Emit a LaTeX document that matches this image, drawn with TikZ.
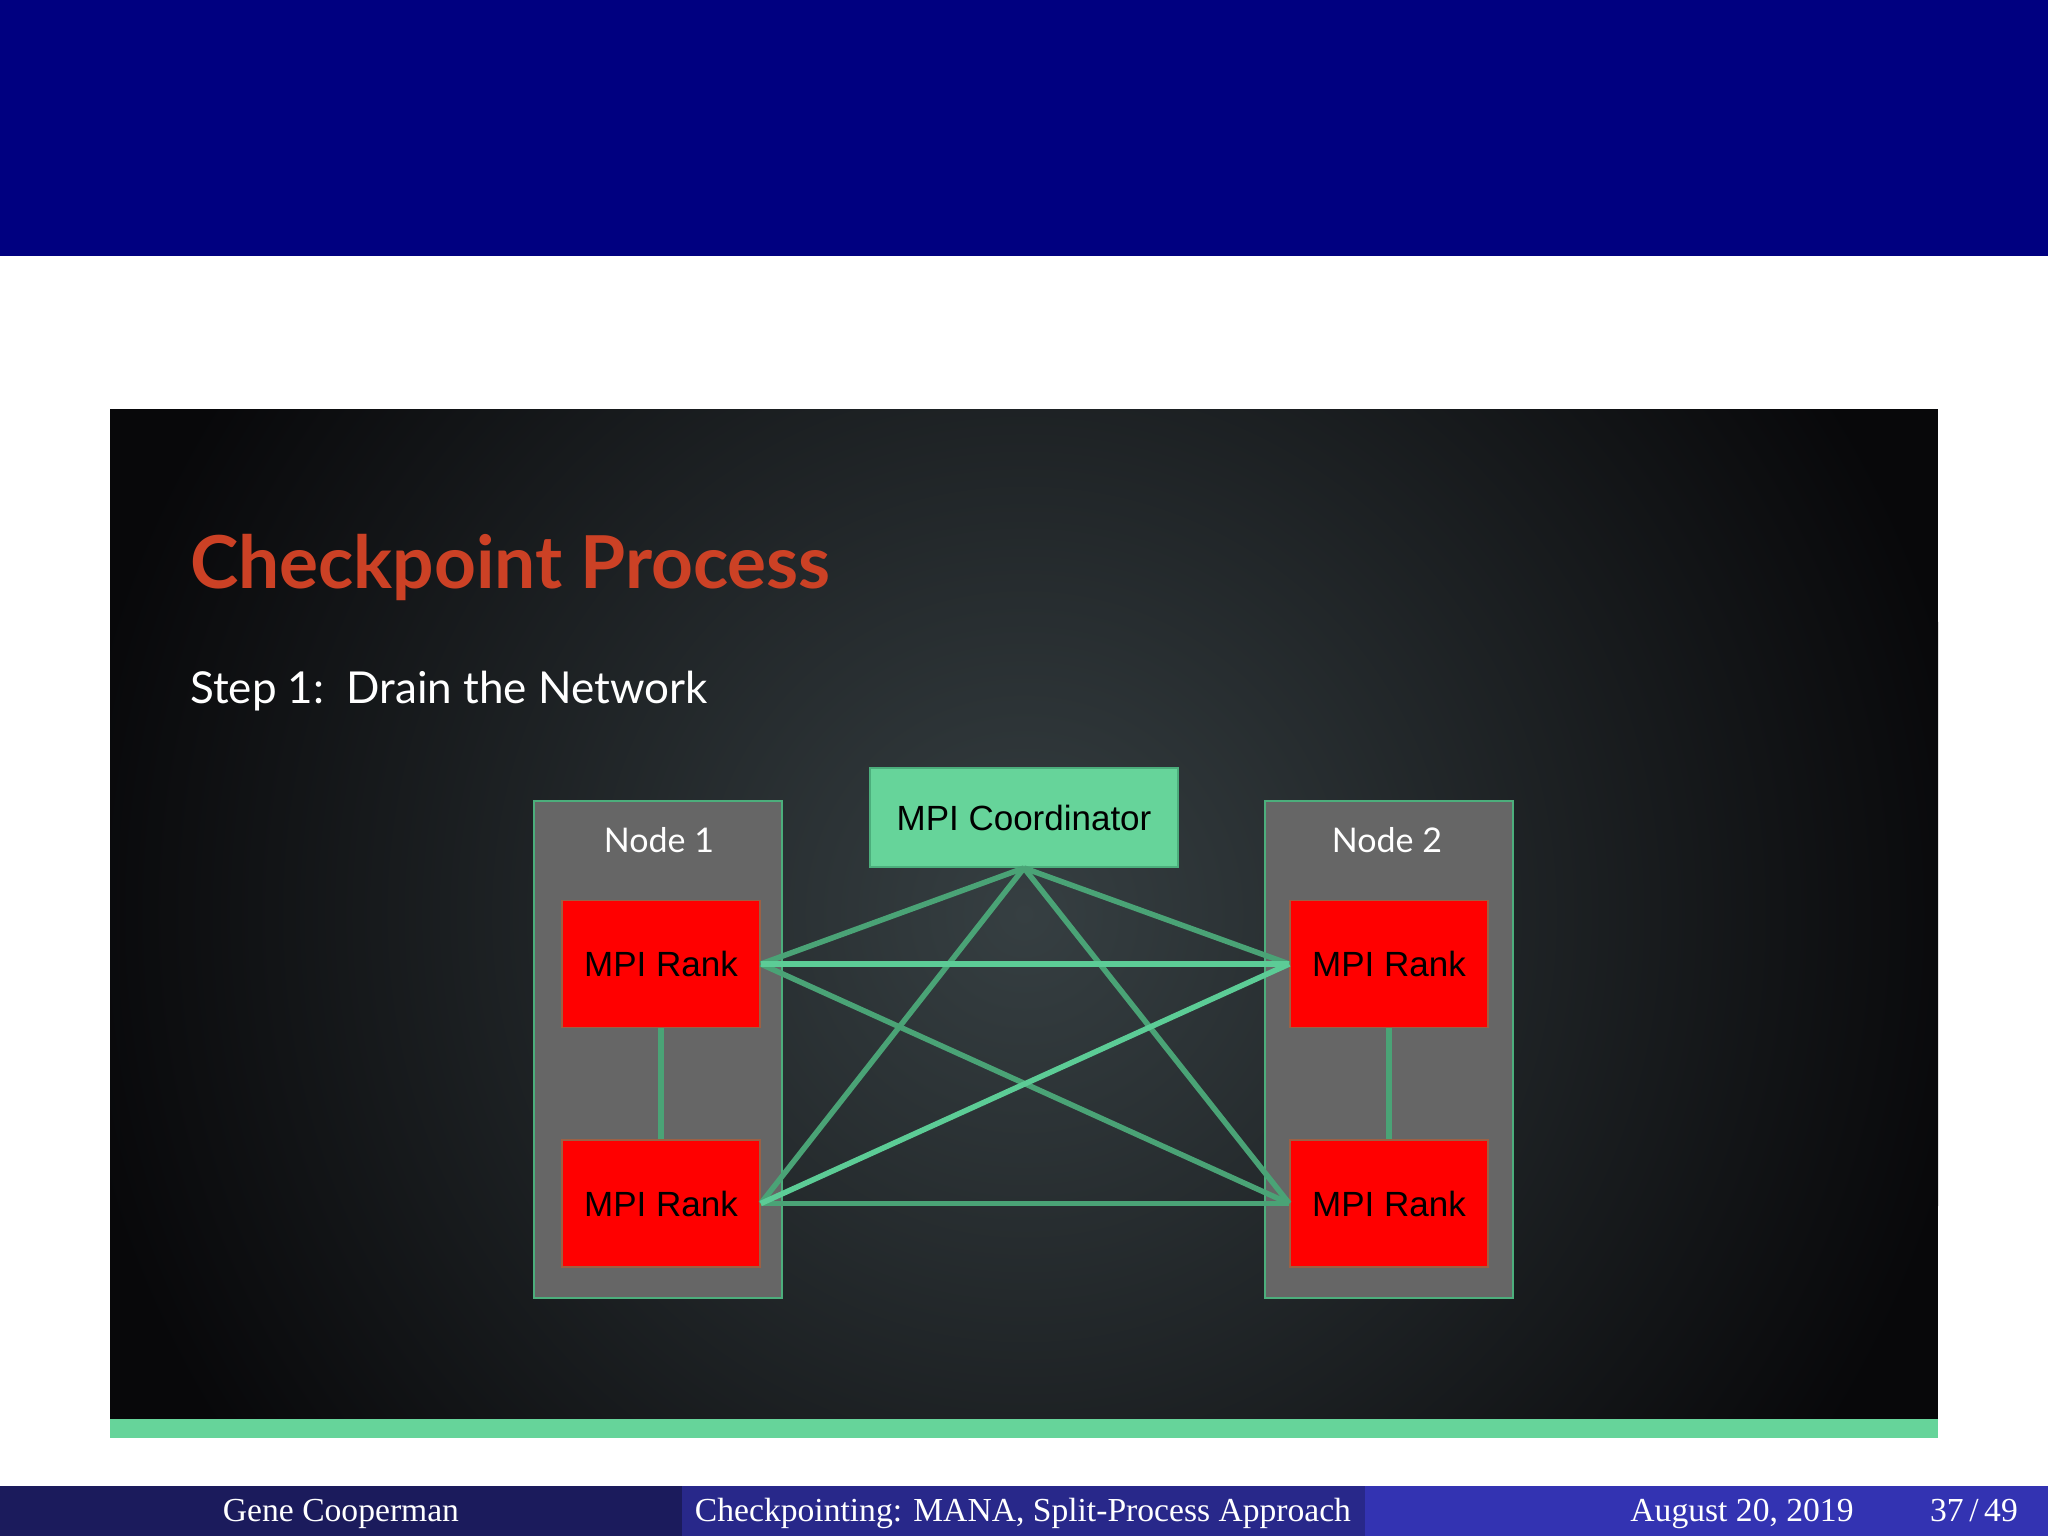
\documentclass[tikz,border=0pt]{standalone}
\usepackage{fontspec}
\setmainfont{Liberation Serif}
\newfontfamily\slidefont{Lato}
\newfontfamily\boxfont{Liberation Sans}
\usepackage{tikz}
\usetikzlibrary{positioning}

\definecolor{barblue}{RGB}{0,0,128}
\definecolor{footleft}{RGB}{27,27,92}
\definecolor{footmid}{RGB}{40,40,138}
\definecolor{footright}{RGB}{51,51,178}
\definecolor{titlered}{RGB}{204,65,37}
\definecolor{mintfill}{RGB}{102,212,154}
\definecolor{mintedge}{RGB}{76,174,124}
\definecolor{linkdark}{RGB}{74,163,118}
\definecolor{linklight}{RGB}{92,204,150}
\definecolor{hostgray}{RGB}{102,102,102}
\definecolor{slatecenter}{RGB}{54,63,66}
\definecolor{slateedge}{RGB}{8,8,10}

\begin{document}
\begin{tikzpicture}[x = 1pt, y = -1pt,
		host/.style = {draw = mintedge, line width = 2pt, fill = hostgray,
			minimum width = 248pt, minimum height = 497pt, inner sep = 0pt},
		hostlabel/.style = {text = white, inner sep = 0pt,
			font = \slidefont\fontsize{34}{40}\selectfont},
		rank/.style = {draw = mintedge!55!red, line width = 1.5pt, fill = red,
			minimum width = 198pt, minimum height = 127pt, inner sep = 0pt,
			font = \boxfont\fontsize{35}{42}\selectfont},
		coordbox/.style = {draw = mintedge, line width = 2pt, fill = mintfill,
			minimum width = 308pt, minimum height = 99pt, inner sep = 0pt,
			font = \boxfont\fontsize{35}{42}\selectfont},
		link/.style = {line width = 5.5pt, color = linkdark},
		linkhi/.style = {line width = 5.5pt, color = linklight},
		foot/.style = {text = white, inner sep = 0pt,
			font = \fontsize{33.6}{40}\selectfont}]
	\useasboundingbox (0,0) rectangle (2048,1536);
	\fill[white] (0,0) rectangle (2048,1536);
	\fill[barblue] (0,0) rectangle (2048,256);
	% slide picture
	\fill[slateedge] (110,409) rectangle (1938,1419);
	\begin{scope}
		\clip (110,409) rectangle (1938,1419);
		\shade[inner color = slatecenter, outer color = slateedge] (1024,914) circle (960);
	\end{scope}
	\fill[mintfill] (110,1419) rectangle (1938,1438);
	\node[anchor = base west, inner sep = 0pt, text = titlered,
		font = \slidefont\bfseries\fontsize{73}{80}\selectfont] (title) at (190,588) {Checkpoint Process};
	\node[anchor = base west, inner sep = 0pt, text = white,
		font = \slidefont\fontsize{44}{52}\selectfont] (step) at (190,703) {Step 1:\hspace{0.5em}Drain the Network};
	\node[host] (host1) at (658,1049.5) {};
	\node[host] (host2) at (1389,1049.5) {};
	\node[hostlabel, anchor = base] (lbl1) at (659,852) {Node 1};
	\node[hostlabel, anchor = base] (lbl2) at (1387,852) {Node 2};
	\node[coordbox] (coord) at (1024,817.5) {MPI Coordinator};
	\node[rank] (r11) at (661,964) {MPI Rank};
	\node[rank] (r12) at (661,1203.5) {MPI Rank};
	\node[rank] (r21) at (1389,964) {MPI Rank};
	\node[rank] (r22) at (1389,1203.5) {MPI Rank};
	\draw[link] (r11.south) -- (r12.north);
	\draw[link] (r21.south) -- (r22.north);
	\draw[link] (coord.south) -- (r11.east);
	\draw[link] (coord.south) -- (r12.east);
	\draw[link] (coord.south) -- (r21.west);
	\draw[link] (coord.south) -- (r22.west);
	\draw[link] (r11.east) -- (r22.west);
	\draw[link] (r12.east) -- (r22.west);
	\draw[linkhi] (r11.east) -- (r21.west);
	\draw[linkhi] (r12.east) -- (r21.west);
	% footline
	\fill[footleft] (0,1486) rectangle (682,1536);
	\fill[footmid] (682,1486) rectangle (1365,1536);
	\fill[footright] (1365,1486) rectangle (2048,1536);
	\node[foot, anchor = base] (author) at (341,1521) {Gene Cooperman};
	\node[foot, anchor = base] (talk) at (1023,1521) {Checkpointing: MANA, Split-Process Approach};
	\node[foot, anchor = base] (date) at (1742,1521) {August 20, 2019};
	\node[foot, anchor = base east] (page) at (2018,1521) {37\,/\,49};
\end{tikzpicture}
\end{document}
